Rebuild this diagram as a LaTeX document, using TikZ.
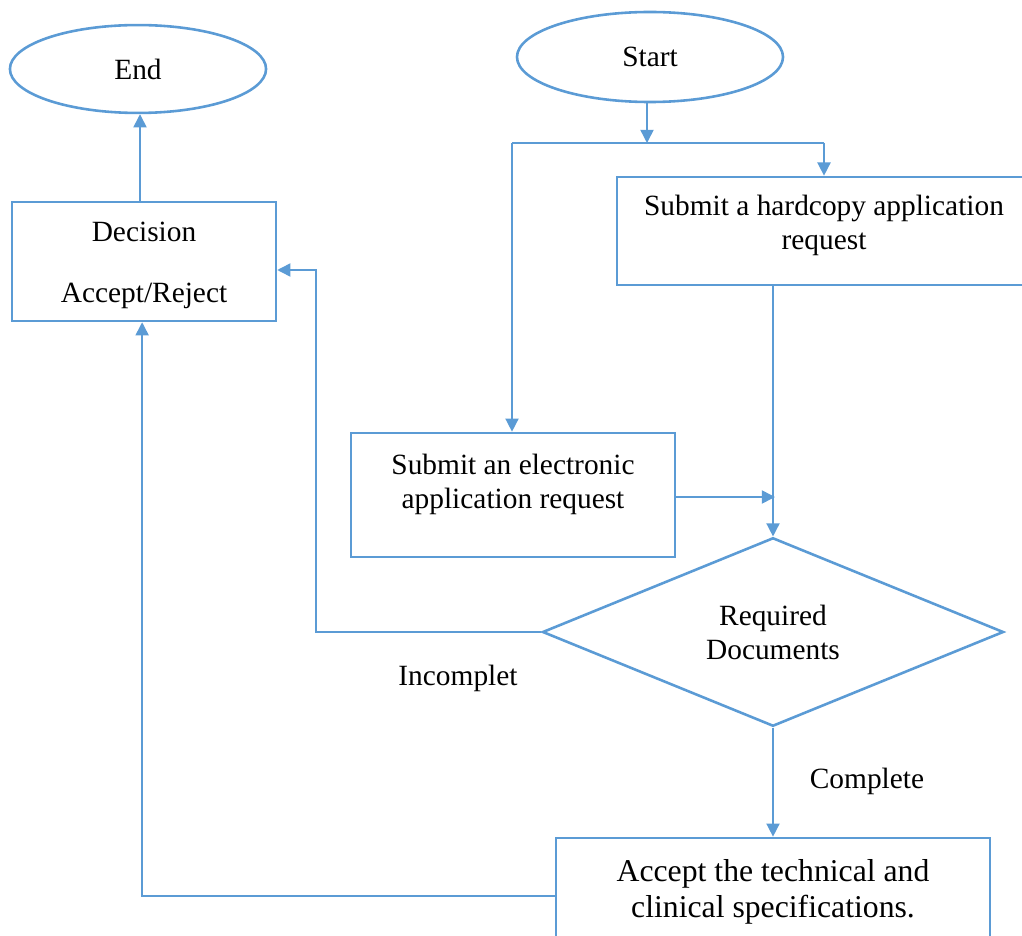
\documentclass[tikz,border=0pt]{standalone}
\usepackage{fontspec}
\setmainfont{Liberation Serif}
\usetikzlibrary{shapes.geometric, arrows.meta, positioning}
\definecolor{wordblue}{RGB}{91,155,213}

\begin{document}
\begin{tikzpicture}[x=0.4255pt, y=-0.4255pt, font=\fontsize{12.5}{14.5}\selectfont,
		term/.style={ellipse, draw=wordblue, line width=1.1pt},
		procbox/.style={rectangle, draw=wordblue, line width=1.1pt, align=center},
		flow/.style={draw=wordblue, line width=0.65pt, -{Triangle[length=5.6pt, width=5.6pt]}},
		link/.style={draw=wordblue, line width=0.65pt}]
		\useasboundingbox (0,0) rectangle (1022,935);
		
		\node[term, minimum width=109pt, minimum height=37.4pt] (endst) at (138,69) {End};
		\node[term, minimum width=113.2pt, minimum height=38.3pt] (startst) at (650,57) {Start};
		
		\node[procbox, minimum width=112.3pt, minimum height=50.6pt,
			label={[align=center, yshift=-1.7pt]center:Decision\\[11.5pt]Accept/Reject}] (decbox) at (144,261.5) {};
		\node[procbox, minimum width=176.2pt, minimum height=46pt,
			label={[align=center, yshift=2.2pt]center:Submit a hardcopy application\\request}] (hardbox) at (824,231) {};
		\node[procbox, minimum width=137.9pt, minimum height=52.8pt,
			label={[align=center, yshift=4.4pt]center:Submit an electronic\\application request}] (elecbox) at (513,495) {};
		\node[diamond, draw=wordblue, line width=1.1pt, inner sep=0pt, align=center,
			minimum width=196.2pt, minimum height=79.1pt] (reqdoc) at (773,632) {Required\\Documents};
		\node[procbox, minimum width=184.7pt, minimum height=42.6pt,
			label={[align=center, yshift=-1.5pt, font=\fontsize{13.5}{15.3}\selectfont]center:Accept the technical and\\clinical specifications.}] (accbox) at (773,888) {};
		
		\coordinate (split) at (647,143);
		\coordinate (splitl) at (512,143);
		\coordinate (splitr) at (824,143);
		\coordinate (joinpt) at (775,497);
		\coordinate (incc) at (316,270);
		
		\draw[flow] (split |- startst.south) -- (split);
		\draw[link] (splitl) -- (splitr);
		\draw[flow] (splitr) -- (hardbox.north);
		\draw[flow] (splitl) -- (splitl |- elecbox.north);
		\draw[flow] (elecbox.east |- joinpt) -- (joinpt);
		\draw[flow] (hardbox.south -| reqdoc.north) -- (reqdoc.north);
		
		\draw[flow] (reqdoc.west) -| (incc) -- (incc -| decbox.east);
		\node (incl) at (458,678) {Incomplet};
		
		\draw[flow] (reqdoc.south) -- (accbox.north);
		\node (compl) at (867,781) {Complete};
		
		\draw[flow] ([yshift=-3.4pt]accbox.west) -| ([xshift=-0.8pt]decbox.south);
		\draw[flow] ([xshift=-1.7pt]decbox.north) -- ([xshift=-1.7pt]decbox.north |- endst.south);
		
	\end{tikzpicture}
\end{document}
